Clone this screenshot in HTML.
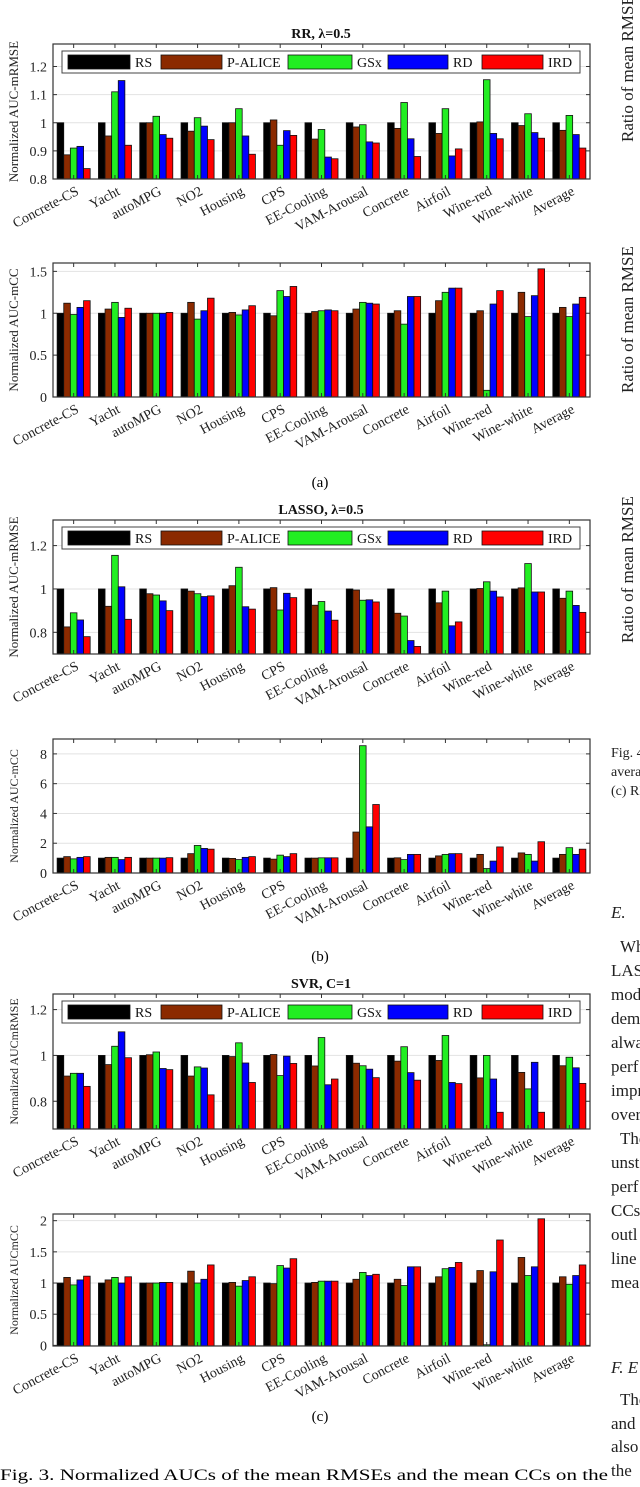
<!DOCTYPE html>
<html><head><meta charset="utf-8">
<style>
html,body{margin:0;padding:0;background:#fff;}
svg{display:block;font-family:"Liberation Serif",serif;}
</style></head>
<body>
<svg id="fig" width="640" height="1487" viewBox="0 0 640 1487" xmlns="http://www.w3.org/2000/svg">
<g id="charts"></g>
<g font-size="17" fill="#222">
<text transform="translate(633,142) rotate(-90)">Ratio of mean RMSE</text>
<text transform="translate(633,393) rotate(-90)">Ratio of mean RMSE</text>
<text transform="translate(633,643) rotate(-90)">Ratio of mean RMSE</text>
<text x="611" y="757" font-size="14">Fig. 4.</text>
<text x="611" y="776" font-size="14">average</text>
<text x="611" y="795" font-size="14">(c) RR</text>
<text x="611" y="918" font-style="italic">E.</text>
<text x="620" y="952">When</text>
<text x="611" y="976">LASSO</text>
<text x="611" y="1000">mode</text>
<text x="611" y="1024">dem</text>
<text x="611" y="1048">alwa</text>
<text x="611" y="1072">perf</text>
<text x="611" y="1096">impr</text>
<text x="611" y="1120">over</text>
<text x="620" y="1144">The</text>
<text x="611" y="1168">unst</text>
<text x="611" y="1192">perf</text>
<text x="611" y="1216">CCs</text>
<text x="611" y="1240">outl</text>
<text x="611" y="1264">line</text>
<text x="611" y="1288">mea</text>
<text x="611" y="1373" font-style="italic">F.  E</text>
<text x="620" y="1405">The</text>
<text x="611" y="1429">and</text>
<text x="611" y="1452">also</text>
<text x="611" y="1476">the</text>
</g>
<text x="320" y="487" text-anchor="middle" font-size="15">(a)</text>
<text x="320" y="961" text-anchor="middle" font-size="15">(b)</text>
<text x="320" y="1421" text-anchor="middle" font-size="15">(c)</text>
<text x="0" y="1480" font-size="16" textLength="608" lengthAdjust="spacingAndGlyphs">Fig. 3.   Normalized AUCs of the mean RMSEs and the mean CCs on the</text>
</svg>
<script>
const categories = ["Concrete-CS","Yacht","autoMPG","NO2","Housing","CPS","EE-Cooling","VAM-Arousal","Concrete","Airfoil","Wine-red","Wine-white","Average"];
const methods = ["RS","P-ALICE","GSx","RD","IRD"];

const rrRmseRS     = [1,1,1,1,1,1,1,1,1,1,1,1,1];
const rrRmsePALICE = [0.886,0.953,1.0,0.97,1.0,1.01,0.942,0.985,0.98,0.962,1.003,0.99,0.973];
const rrRmseGSx    = [0.91,1.11,1.023,1.018,1.05,0.92,0.976,0.993,1.072,1.05,1.153,1.032,1.026];
const rrRmseRD     = [0.916,1.15,0.958,0.988,0.953,0.972,0.878,0.932,0.943,0.882,0.962,0.965,0.958];
const rrRmseIRD    = [0.837,0.92,0.945,0.94,0.888,0.955,0.872,0.928,0.88,0.907,0.943,0.945,0.91];

const rrCcRS     = [1,1,1,1,1,1,1,1,1,1,1,1,1];
const rrCcPALICE = [1.12,1.05,1.0,1.13,1.01,0.97,1.02,1.05,1.03,1.15,1.03,1.25,1.07];
const rrCcGSx    = [0.985,1.13,1.0,0.93,0.98,1.27,1.03,1.13,0.87,1.25,0.08,0.96,0.96];
const rrCcRD     = [1.07,0.95,1.0,1.03,1.04,1.2,1.04,1.12,1.2,1.3,1.11,1.21,1.11];
const rrCcIRD    = [1.15,1.06,1.01,1.18,1.09,1.32,1.03,1.11,1.2,1.3,1.27,1.53,1.19];

const laRmseRS     = [1,1,1,1,1,1,1,1,1,1,1,1,1];
const laRmsePALICE = [0.825,0.92,0.978,0.99,1.015,1.006,0.925,0.995,0.888,0.936,1.002,1.005,0.957];
const laRmseGSx    = [0.89,1.155,0.972,0.978,1.1,0.903,0.942,0.948,0.875,0.99,1.033,1.117,0.99];
const laRmseRD     = [0.857,1.01,0.945,0.965,0.918,0.98,0.898,0.95,0.762,0.83,0.99,0.986,0.924];
const laRmseIRD    = [0.78,0.86,0.9,0.968,0.907,0.96,0.856,0.94,0.735,0.848,0.963,0.986,0.892];

const laCcRS     = [1,1,1,1,1,1,1,1,1,1,1,1,1];
const laCcPALICE = [1.1,1.05,1.0,1.3,0.98,0.93,1.0,2.75,1.02,1.15,1.25,1.35,1.25];
const laCcGSx    = [0.95,1.05,1.0,1.85,0.9,1.2,1.02,8.55,0.9,1.25,0.3,1.25,1.7];
const laCcRD     = [1.05,0.9,1.0,1.65,1.05,1.1,1.02,3.1,1.25,1.3,0.8,0.8,1.25];
const laCcIRD    = [1.1,1.05,1.03,1.6,1.1,1.3,1.02,4.6,1.25,1.3,1.75,2.1,1.6];

const svRmseRS     = [1,1,1,1,1,1,1,1,1,1,1,1,1];
const svRmsePALICE = [0.91,0.96,1.003,0.91,0.995,1.004,0.954,0.966,0.975,0.978,0.902,0.926,0.955];
const svRmseGSx    = [0.922,1.04,1.015,0.95,1.055,0.912,1.078,0.955,1.038,1.087,1.0,0.854,0.992];
const svRmseRD     = [0.922,1.103,0.943,0.945,0.967,0.997,0.872,0.94,0.925,0.882,0.897,0.97,0.946];
const svRmseIRD    = [0.865,0.99,0.938,0.828,0.882,0.965,0.897,0.903,0.892,0.877,0.752,0.752,0.878];

const svCcRS     = [1,1,1,1,1,1,1,1,1,1,1,1,1];
const svCcPALICE = [1.09,1.05,1.0,1.19,1.01,0.99,1.01,1.06,1.06,1.1,1.2,1.41,1.1];
const svCcGSx    = [0.97,1.09,1.0,1.0,0.95,1.28,1.03,1.17,0.96,1.23,0.01,1.12,0.98];
const svCcRD     = [1.05,1.0,1.01,1.06,1.04,1.24,1.03,1.12,1.26,1.25,1.18,1.26,1.12];
const svCcIRD    = [1.11,1.1,1.01,1.29,1.1,1.39,1.03,1.14,1.26,1.33,1.69,2.03,1.29];

const ticksRR1 = [0.8,0.9,1,1.1,1.2];
const ticksRR2 = [0,0.5,1,1.5];
const ticksLA1 = [0.8,1,1.2];
const ticksLA2 = [0,2,4,6,8];
const ticksSV1 = [0.8,1,1.2];
const ticksSV2 = [0,0.5,1,1.5,2];

const colors = ["#000000","#8b2a00","#22ee22","#0000ff","#ff0000"];
const NS = "http://www.w3.org/2000/svg";
const root = document.getElementById("charts");
const L = 53, R = 590;

function mk(tag, attrs, parent){
  const e = document.createElementNS(NS, tag);
  for (const k in attrs) e.setAttribute(k, attrs[k]);
  parent.appendChild(e);
  return e;
}

function drawChart(c){
  const g = mk("g", {}, root);
  
  
  const yS = v => c.bottom - (v - c.ymin) / (c.ymax - c.ymin) * (c.bottom - c.top);
  const gw = (R - L) / categories.length;
  const xS = i => L + (i + 0.5) * gw;
  const bw = gw * 0.8 / 5;
  mk("rect", {x:L, y:c.top, width:R-L, height:c.bottom-c.top, fill:"#fff"}, g);
  c.ticks.forEach(t => {
    const y = yS(t);
    const gl = mk("line", {x1:L, x2:R, y1:y, y2:y, stroke:"#e2e2e2", "stroke-width":1}, g);
    
    
    const tl = mk("text", {x:L-6, y:y+5, "text-anchor":"end", "font-size":14, fill:"#222"}, g);
    tl.textContent = String(t);
    
    
    mk("line", {x1:L, x2:L+4, y1:y, y2:y, stroke:"#333"}, g);
    mk("line", {x1:R, x2:R-4, y1:y, y2:y, stroke:"#333"}, g);
  });
  c.series.forEach((arr, k) => {
    arr.forEach((v, i) => {
      const x = xS(i) + (k - 2.5) * bw;
      const yt = Math.max(c.top, yS(v));
      const b = mk("rect", {x:x, y:yt, width:bw, height:Math.max(0, c.bottom - yt), fill:colors[k], stroke:"#111", "stroke-width":0.8}, g);
      
      
    });
  });
  categories.forEach((cat, i) => {
    const x = xS(i);
    mk("line", {x1:x, x2:x, y1:c.bottom, y2:c.bottom-4, stroke:"#333"}, g);
    mk("line", {x1:x, x2:x, y1:c.top, y2:c.top+4, stroke:"#333"}, g);
    const t = mk("text", {transform:"translate(" + (x + 6) + "," + (c.bottom + 15) + ") rotate(-28)", "text-anchor":"end", "font-size":14, fill:"#222"}, g);
    t.textContent = cat;
    
    
  });
  const box = mk("rect", {x:L, y:c.top, width:R-L, height:c.bottom-c.top, fill:"none", stroke:"#333", "stroke-width":1.2}, g);
  
  
  const yl = mk("text", {transform:"translate(" + c.ylx + "," + ((c.top + c.bottom) / 2) + ") rotate(-90)", "text-anchor":"middle", "font-size":c.yls, fill:"#222"}, g);
  yl.textContent = c.ylabel;
  
  
  if (c.title) {
    const tt = mk("text", {x:321, y:c.top - 6, "text-anchor":"middle", "font-size":14, "font-weight":"bold", fill:"#111"}, g);
    tt.textContent = c.title;
    
    
  }
  if (c.legend) {
    const lg = mk("g", {}, g);
    
    
    const ly = c.top + 7, lh = 22;
    mk("rect", {x:62, y:ly, width:518, height:lh, fill:"#fff", stroke:"#444", "stroke-width":1}, lg);
    const sx = [68,161,288,388,482];
    const sw = [62,61,64,60,61];
    methods.forEach((m, k) => {
      const s = mk("rect", {x:sx[k], y:ly+4, width:sw[k], height:lh-8, fill:colors[k], stroke:"#111", "stroke-width":0.8}, lg);
      
      
      const lt = mk("text", {x:sx[k]+sw[k]+5, y:ly+16, "font-size":14, fill:"#111"}, lg);
      lt.textContent = m;
      
      
    });
  }
}

drawChart({name:"rr-mrmse-chart", top:44, bottom:179, ymin:0.8, ymax:1.28, ticks:ticksRR1, title:"RR,  \u03bb=0.5", ylabel:"Normalized AUC-mRMSE", ylx:18, yls:13, legend:true,
  series:[rrRmseRS, rrRmsePALICE, rrRmseGSx, rrRmseRD, rrRmseIRD]});
drawChart({name:"rr-mcc-chart", top:263, bottom:397, ymin:0, ymax:1.6, ticks:ticksRR2, ylabel:"Normalized AUC-mCC", ylx:18, yls:13,
  series:[rrCcRS, rrCcPALICE, rrCcGSx, rrCcRD, rrCcIRD]});
drawChart({name:"lasso-mrmse-chart", top:520, bottom:654, ymin:0.7, ymax:1.318, ticks:ticksLA1, title:"LASSO,  \u03bb=0.5", ylabel:"Normalized AUC-mRMSE", ylx:18, yls:13, legend:true,
  series:[laRmseRS, laRmsePALICE, laRmseGSx, laRmseRD, laRmseIRD]});
drawChart({name:"lasso-mcc-chart", top:739, bottom:873, ymin:0, ymax:9, ticks:ticksLA2, ylabel:"Normalized AUC-mCC", ylx:18, yls:12,
  series:[laCcRS, laCcPALICE, laCcGSx, laCcRD, laCcIRD]});
drawChart({name:"svr-mrmse-chart", top:994, bottom:1129, ymin:0.679, ymax:1.268, ticks:ticksSV1, title:"SVR,  C=1", ylabel:"Normalized AUCmRMSE", ylx:18, yls:12, legend:true,
  series:[svRmseRS, svRmsePALICE, svRmseGSx, svRmseRD, svRmseIRD]});
drawChart({name:"svr-mcc-chart", top:1214, bottom:1346, ymin:-0.01, ymax:2.107, ticks:ticksSV2, ylabel:"Normalized AUCmCC", ylx:18, yls:12,
  series:[svCcRS, svCcPALICE, svCcGSx, svCcRD, svCcIRD]});
</script>
</body></html>
